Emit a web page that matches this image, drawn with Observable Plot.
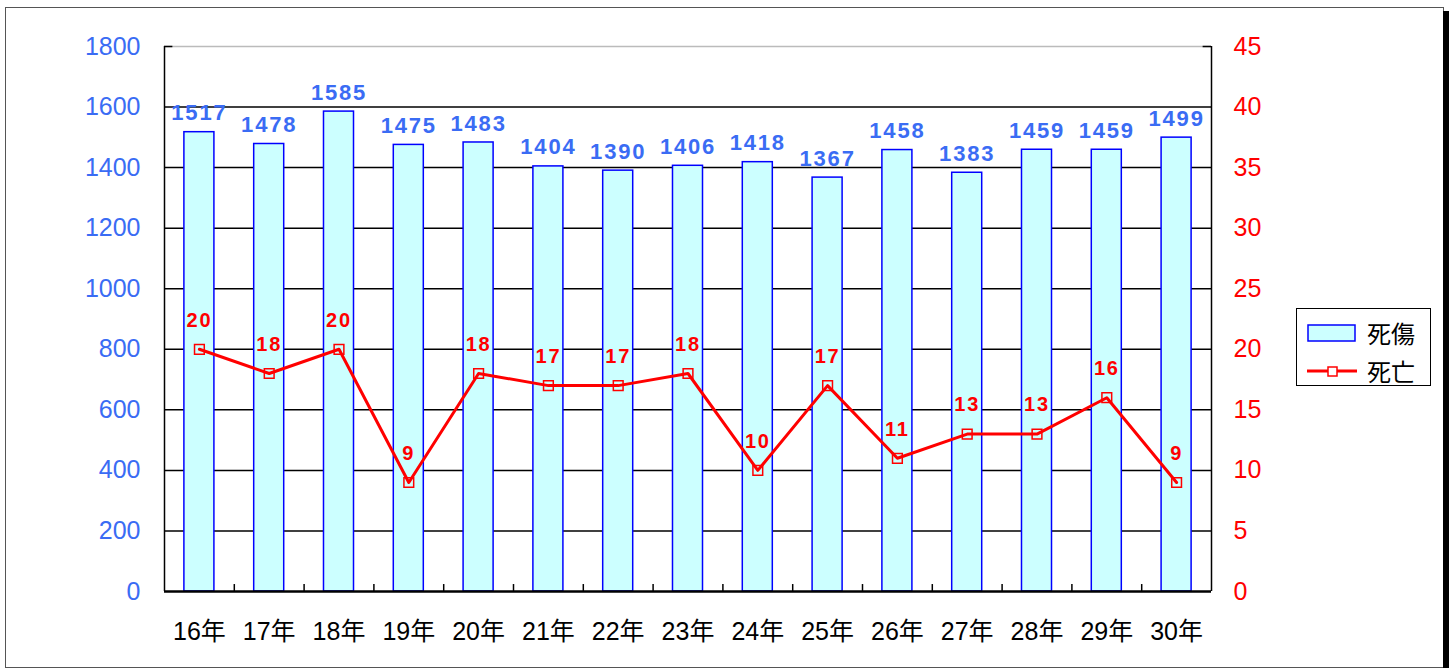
<!DOCTYPE html>
<html>
<head>
<meta charset="utf-8">
<script src="https://cdn.jsdelivr.net/npm/d3@7"></script>
<script src="https://cdn.jsdelivr.net/npm/@observablehq/plot@0.6"></script>
<style>
  html, body { margin: 0; padding: 0; background: white; }
  #wrap { position: relative; width: 1453px; height: 668px; overflow: hidden; font-family: "Liberation Sans", "Noto Sans CJK JP", sans-serif; }
  #wrap svg.plot { position: absolute; left: 0; top: 0; }
  #frame { position: absolute; left: 5px; top: 7px; width: 1437px; height: 659px; border: 1.5px solid #555; pointer-events: none; }
  #shadow { position: absolute; left: 1443px; top: 11px; width: 6px; height: 660px; background: #000; }
  #legend { position: absolute; left: 1296px; top: 308px; width: 133px; height: 76px; border: 1px solid #000; background: white; }
  #legend .item { position: absolute; left: 10px; display: flex; align-items: center; font-family: "Noto Sans CJK JP", sans-serif; font-size: 24px; color: #000; }
  #legend svg { margin-right: 10px; }
  g[aria-label="text"] text { letter-spacing: 1.8px; }
</style>
</head>
<body>
<div id="wrap">
  <div id="frame"></div>
  <div id="shadow"></div>
</div>
<script>
const years = ["16年","17年","18年","19年","20年","21年","22年","23年","24年","25年","26年","27年","28年","29年","30年"];
const casualties = [1517,1478,1585,1475,1483,1404,1390,1406,1418,1367,1458,1383,1459,1459,1499];
const deaths = [20,18,20,9,18,17,17,18,10,17,11,13,13,16,9];
const leftTicks = [0,200,400,600,800,1000,1200,1400,1600,1800];
const seriesNames = ["死傷","死亡"];

const k = 1800 / 45;
const data = years.map((y, i) => ({i, year: y, casualties: casualties[i], deaths: deaths[i]}));
const cx = d => d.i + 0.5;
const halfBar = 0.215;

const chart = Plot.plot({
  width: 1453,
  height: 668,
  marginLeft: 164,
  marginRight: 242,
  marginTop: 46,
  marginBottom: 77,
  x: {domain: [0, 15], axis: null},
  y: {domain: [0, 1800], axis: null},
  style: {fontFamily: "'Liberation Sans', 'Noto Sans CJK JP', sans-serif", background: "transparent", overflow: "visible"},
  marks: [
    Plot.ruleY(leftTicks.filter(t => t > 0 && t < 1800), {stroke: "#000", strokeWidth: 1.5}),
    Plot.ruleY([1800], {stroke: "#bbb", strokeWidth: 1.5}),
    Plot.rectY(data, {x1: d => d.i + 0.5 - halfBar, x2: d => d.i + 0.5 + halfBar, y1: d => 0, y2: "casualties", fill: "#ccffff", stroke: "#0000ff", strokeWidth: 1.5}),
    Plot.ruleX([0, 15], {stroke: "#000", strokeWidth: 1.5}),
    Plot.ruleY([0], {stroke: "#000", strokeWidth: 2.5}),
    Plot.ruleX(d3.range(1, 15), {y1: 0, y2: 23, stroke: "#000", strokeWidth: 1.5}),
    Plot.ruleY([1800], {x1: 0, x2: 0.12, stroke: "#000", strokeWidth: 1.5}),
    Plot.ruleY([1800], {x1: 14.88, x2: 15, stroke: "#000", strokeWidth: 1.5}),
    Plot.axisY({ticks: leftTicks, tickFormat: d => String(d), tickSize: 0, tickPadding: 24, color: "#3a6cf4", fontSize: 25, label: null}),
    Plot.axisY({anchor: "right", ticks: leftTicks, tickFormat: d => String(d / k), tickSize: 0, tickPadding: 22, color: "#ff0000", fontSize: 25, label: null}),
    Plot.axisX({ticks: years.map((_, i) => i + 0.5), tickFormat: d => years[Math.floor(d)], tickSize: 0, tickPadding: 31, color: "#000", fontSize: 25, label: null}),
    Plot.line(data, {x: cx, y: d => d.deaths * k, stroke: "#ff0000", strokeWidth: 3}),
    Plot.dot(data, {x: cx, y: d => d.deaths * k, symbol: "square", r: 5.5, stroke: "#ff0000", fill: "none", strokeWidth: 1.5}),
    Plot.text(data, {x: cx, y: "casualties", text: d => String(d.casualties), dy: -19, fill: "#3a6cf4", fontWeight: "bold", fontSize: 22}),
    Plot.text(data, {x: cx, y: d => d.deaths * k, text: d => String(d.deaths), dy: -29, fill: "#ff0000", fontWeight: "bold", fontSize: 20})
  ]
});
chart.classList.add("plot");
const wrap = document.getElementById("wrap");
wrap.insertBefore(chart, wrap.firstChild);

const legend = document.createElement("div");
legend.id = "legend";
legend.innerHTML = `
  <div class="item" style="top:6px"><svg width="50" height="22"><rect x="1" y="3" width="47" height="16" fill="#ccffff" stroke="#0000ff" stroke-width="1.5"/></svg>${seriesNames[0]}</div>
  <div class="item" style="top:44px"><svg width="50" height="22"><line x1="0" y1="11" x2="50" y2="11" stroke="#ff0000" stroke-width="3"/><rect x="21" y="7" width="9" height="9" fill="white" stroke="#ff0000" stroke-width="1.5"/></svg>${seriesNames[1]}</div>`;
wrap.appendChild(legend);
</script>
</body>
</html>
